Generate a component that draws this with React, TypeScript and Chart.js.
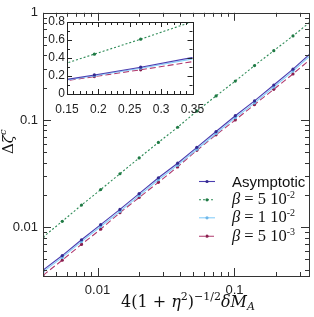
import { useEffect, useRef } from 'react';
import { Chart, registerables } from 'chart.js';
Chart.register(...registerables);

const xValues = [0.004, 0.00553, 0.00764, 0.01055, 0.01458, 0.02014, 0.02783, 0.03845, 0.05312, 0.07339, 0.1014, 0.1401, 0.1936, 0.2674, 0.3695];
const asymptotic = [0.00397, 0.00543, 0.00763, 0.01057, 0.01463, 0.02056, 0.0289, 0.0395, 0.0555, 0.078, 0.1096, 0.1507, 0.212, 0.298, 0.432];
const beta5e2 = [0.00807, 0.01133, 0.01606, 0.0224, 0.0315, 0.0442, 0.0617, 0.0855, 0.121, 0.1677, 0.2306, 0.322, 0.443, 0.609, 0.85];
const beta1e2 = [0.00382, 0.00522, 0.00733, 0.01015, 0.01405, 0.0197, 0.0277, 0.0379, 0.0533, 0.0748, 0.105, 0.1445, 0.203, 0.286, 0.414];
const beta5e3 = [0.00355, 0.00492, 0.0069, 0.00957, 0.01364, 0.0189, 0.0262, 0.0365, 0.0521, 0.0727, 0.1, 0.1393, 0.1932, 0.269, 0.38];

const mainXTicks = [0.01, 0.1];
const mainYTicks = [0.01, 0.1, 1];
const insetXTicks = [0.15, 0.2, 0.25, 0.3, 0.35];
const insetYTicks = [0, 0.2, 0.4, 0.6, 0.8];

const seriesNames = ['Asymptotic', 'β = 5 10-2', 'β = 1 10-2', 'β = 5 10-3'];
const seriesValues = [asymptotic, beta5e2, beta1e2, beta5e3];
const lineColors = ['#4a3db0', '#2e8b57', '#87cefa', '#b03a6e'];
const pointColors = ['#35298f', '#1f7a44', '#6fb6e8', '#8a1f4e'];
const dashes: number[][] = [[], [2, 2], [], [6, 3]];

const SANS = '"Liberation Sans", Arial, sans-serif';
const SERIF = '"Liberation Serif", "Times New Roman", serif';
const DSERIF = '"DejaVu Serif", serif';

type Part = { t: string; it?: boolean; sz?: number; dy?: number; sans?: boolean; gap?: number };

function drawRich(ctx: CanvasRenderingContext2D, parts: Part[], x: number, y: number, base: number, family: string) {
  let cx = x;
  for (const p of parts) {
    const size = p.sz ?? base;
    ctx.font = `${p.it ? 'italic ' : ''}${size}px ${p.sans ? SANS : family}`;
    ctx.fillText(p.t, cx, y + (p.dy ?? 0));
    cx += ctx.measureText(p.t).width + (p.gap ?? 0);
  }
  return cx - x;
}

function makeDatasets() {
  return seriesValues.map((vals, i) => ({
    label: seriesNames[i],
    data: xValues.map((x, j) => ({ x, y: vals[j] })),
    borderColor: lineColors[i],
    backgroundColor: pointColors[i],
    pointBackgroundColor: pointColors[i],
    pointBorderWidth: 0,
    pointRadius: 1.6,
    borderWidth: 1.1,
    borderDash: dashes[i],
    tension: 0,
    fill: false,
  }));
}

function logTicks(min: number, max: number) {
  const out: { v: number; major: boolean }[] = [];
  for (let d = Math.floor(Math.log10(min)); d <= Math.ceil(Math.log10(max)); d++) {
    for (let m = 1; m <= 9; m++) {
      const v = m * Math.pow(10, d);
      if (v >= min * 0.9999 && v <= max * 1.0001) out.push({ v, major: m === 1 });
    }
  }
  return out;
}

function linTicks(min: number, max: number, minor: number, major: number) {
  const out: { v: number; major: boolean }[] = [];
  const n = Math.round((max - min) / minor);
  for (let i = 0; i <= n; i++) {
    const v = min + i * minor;
    const r = (v - min) / major;
    out.push({ v, major: Math.abs(r - Math.round(r)) < 1e-6 });
  }
  return out;
}

function drawFrameTicks(chart: any, xt: { v: number; major: boolean }[], yt: { v: number; major: boolean }[], majLen: number, minLen: number, color: string) {
  const ctx = chart.ctx as CanvasRenderingContext2D;
  const a = chart.chartArea;
  const xs = chart.scales.x;
  const ys = chart.scales.y;
  ctx.save();
  ctx.strokeStyle = color;
  ctx.lineWidth = 1;
  ctx.strokeRect(Math.round(a.left) + 0.5, Math.round(a.top) + 0.5, Math.round(a.right - a.left), Math.round(a.bottom - a.top));
  ctx.beginPath();
  for (const t of xt) {
    const px = Math.round(xs.getPixelForValue(t.v)) + 0.5;
    const l = t.major ? majLen : minLen;
    ctx.moveTo(px, a.bottom);
    ctx.lineTo(px, a.bottom - l);
    ctx.moveTo(px, a.top);
    ctx.lineTo(px, a.top + l);
  }
  for (const t of yt) {
    const py = Math.round(ys.getPixelForValue(t.v)) + 0.5;
    const l = t.major ? majLen : minLen;
    ctx.moveTo(a.left, py);
    ctx.lineTo(a.left + l, py);
    ctx.moveTo(a.right, py);
    ctx.lineTo(a.right - l, py);
  }
  ctx.stroke();
  ctx.restore();
}

export default function App() {
  const mainRef = useRef<HTMLCanvasElement>(null);
  const insetRef = useRef<HTMLCanvasElement>(null);

  useEffect(() => {
    const X_MIN = 0.004, X_MAX = 0.35, Y_MIN = 0.0035, Y_MAX = 1;
    const mainPlugin = {
      id: 'mainDecor',
      afterDraw(chart: any) {
        drawFrameTicks(chart, logTicks(X_MIN, X_MAX), logTicks(Y_MIN, Y_MAX), 8, 4, '#333');
        const ctx = chart.ctx as CanvasRenderingContext2D;
        ctx.save();
        ctx.fillStyle = '#111';
        ctx.textBaseline = 'alphabetic';
        // legend
        const rows = [181, 199.3, 217.3, 235.7];
        rows.forEach((ry, i) => {
          ctx.save();
          ctx.strokeStyle = lineColors[i];
          ctx.lineWidth = 1.1;
          ctx.setLineDash(dashes[i]);
          ctx.beginPath();
          ctx.moveTo(199, ry + 0.5);
          ctx.lineTo(215, ry + 0.5);
          ctx.stroke();
          ctx.setLineDash([]);
          ctx.fillStyle = pointColors[i];
          ctx.beginPath();
          ctx.arc(207, ry + 0.5, 1.6, 0, Math.PI * 2);
          ctx.fill();
          ctx.restore();
        });
        ctx.fillStyle = '#111';
        drawRich(ctx, [{ t: 'Asymptotic', sans: true }], 232, rows[0] + 5.5, 15, SERIF);
        const betaRows: [string, string][] = [['5', '-2'], ['1', '-2'], ['5', '-3']];
        betaRows.forEach((b, i) => {
          drawRich(ctx, [
            { t: 'β', it: true },
            { t: ' = ' },
            { t: b[0] + ' 10' },
            { t: b[1], sz: 10, dy: -6 },
          ], 232, rows[i + 1] + 5, 16.5, SERIF);
        });
        // x title
        drawRich(ctx, [
          { t: '4(1 + ' },
          { t: 'η', it: true },
          { t: '2', sz: 11, dy: -7 },
          { t: ')' },
          { t: '−1/2', sz: 11, dy: -7 },
          { t: 'δ', it: true },
          { t: 'M', it: true },
          { t: 'A', it: true, sz: 11, dy: 3 },
        ], 121, 307, 16, DSERIF);
        // y title
        ctx.translate(13, 154);
        ctx.rotate(-Math.PI / 2);
        drawRich(ctx, [
          { t: 'Δ' },
          { t: 'ζ', it: true },
          { t: 'c', it: true, sz: 10, dy: -7 },
        ], 0, 0, 15, DSERIF);
        ctx.restore();
      },
    };

    const main = new Chart(mainRef.current!, {
      type: 'line',
      data: { datasets: makeDatasets() as any },
      options: {
        animation: false,
        responsive: false,
        layout: { padding: { top: 10, right: 5, left: 0, bottom: 0 } },
        plugins: { legend: { display: false }, tooltip: { enabled: false } },
        scales: {
          x: {
            type: 'logarithmic',
            min: X_MIN,
            max: X_MAX,
            grid: { display: false, drawTicks: false },
            border: { display: false },
            afterBuildTicks: (axis: any) => { axis.ticks = mainXTicks.map((v) => ({ value: v })); },
            afterFit: (s: any) => { s.height = 41; },
            ticks: {
              autoSkip: false,
              maxRotation: 0,
              padding: 7,
              color: '#222',
              font: { family: SANS, size: 13 },
              callback: (v: any) => String(v),
            },
          },
          y: {
            type: 'logarithmic',
            min: Y_MIN,
            max: Y_MAX,
            grid: { display: false, drawTicks: false },
            border: { display: false },
            afterBuildTicks: (axis: any) => { axis.ticks = mainYTicks.map((v) => ({ value: v })); },
            afterFit: (s: any) => { s.width = 43; },
            ticks: {
              autoSkip: false,
              padding: 5,
              color: '#222',
              font: { family: SANS, size: 13 },
              callback: (v: any) => String(v),
            },
          },
        },
      },
      plugins: [mainPlugin],
    });

    const insetPlugin = {
      id: 'insetDecor',
      beforeDatasetsDraw(chart: any) {
        const a = chart.chartArea;
        const ctx = chart.ctx as CanvasRenderingContext2D;
        ctx.save();
        ctx.fillStyle = '#fff';
        ctx.fillRect(a.left, a.top, a.right - a.left, a.bottom - a.top);
        ctx.restore();
      },
      afterDraw(chart: any) {
        drawFrameTicks(chart, linTicks(0.15, 0.35, 0.01, 0.05), linTicks(0, 0.8, 0.1, 0.2), 5, 3, '#222');
      },
    };

    const inset = new Chart(insetRef.current!, {
      type: 'line',
      data: { datasets: makeDatasets() as any },
      options: {
        animation: false,
        responsive: false,
        layout: { padding: { top: 22, right: 121.5, left: 42, bottom: 203 } },
        plugins: { legend: { display: false }, tooltip: { enabled: false } },
        scales: {
          x: {
            type: 'linear',
            min: 0.15,
            max: 0.35,
            grid: { display: false, drawTicks: false },
            border: { display: false },
            afterBuildTicks: (axis: any) => { axis.ticks = insetXTicks.map((v) => ({ value: v })); },
            afterFit: (s: any) => { s.height = 20; },
            ticks: {
              autoSkip: false,
              maxRotation: 0,
              padding: 8,
              color: '#222',
              font: { family: SANS, size: 12 },
              callback: (v: any) => String(v),
            },
          },
          y: {
            type: 'linear',
            min: 0,
            max: 0.8,
            grid: { display: false, drawTicks: false },
            border: { display: false },
            afterBuildTicks: (axis: any) => { axis.ticks = insetYTicks.map((v) => ({ value: v })); },
            afterFit: (s: any) => { s.width = 25; },
            ticks: {
              autoSkip: false,
              padding: 2,
              color: '#222',
              font: { family: SANS, size: 12 },
              callback: (v: any) => String(v),
            },
          },
        },
      },
      plugins: [insetPlugin],
    });

    return () => {
      main.destroy();
      inset.destroy();
    };
  }, []);

  return (
    <div style={{ position: 'fixed', left: 0, top: 0, width: 314, height: 317, background: '#fff' }}>
      <canvas ref={mainRef} width={314} height={317} style={{ position: 'absolute', left: 0, top: 0 }} />
      <canvas ref={insetRef} width={314} height={317} style={{ position: 'absolute', left: 0, top: 0, pointerEvents: 'none' }} />
    </div>
  );
}
